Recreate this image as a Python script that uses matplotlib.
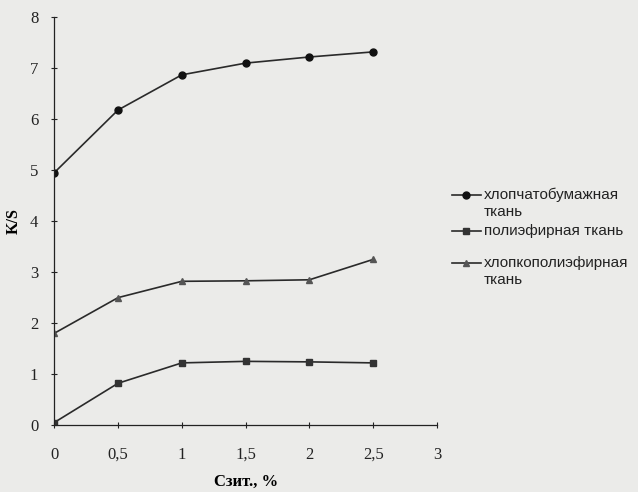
import matplotlib.pyplot as plt
from matplotlib.lines import Line2D

# concentration, %
conc = [0, 0.5, 1, 1.5, 2, 2.5]

# K/S values
cotton = [4.95, 6.18, 6.87, 7.10, 7.22, 7.32]
polyester = [0.05, 0.82, 1.22, 1.25, 1.24, 1.22]
blend = [1.80, 2.50, 2.82, 2.83, 2.85, 3.25]

labels = ['хлопчатобумажная\nткань', 'полиэфирная ткань', 'хлопкополиэфирная\nткань']
xticks = [0, 0.5, 1, 1.5, 2, 2.5, 3]
xticklabels = ['0', '0,5', '1', '1,5', '2', '2,5', '3']

W, H = 638, 492
bg = '#ebebe9'
fig = plt.figure(figsize=(W / 100, H / 100), dpi=100, facecolor=bg)
ax = fig.add_axes([0.085, 0.136, 0.600, 0.829], facecolor=bg)

styles = [
    dict(marker='o', ms=5, mfc='#111111', mec='#111111'),
    dict(marker='s', ms=4.5, mfc='#333333', mec='#333333'),
    dict(marker='^', ms=5, mfc='#555555', mec='#555555'),
]
for ys, st in zip([cotton, polyester, blend], styles):
    ax.plot(conc, ys, color='#2a2a2a', lw=1.2, **st)

ax.set_xlim(0, 3)
ax.set_ylim(0, 8)
ax.set_xticks(xticks)
ax.set_xticklabels(xticklabels)
ax.set_yticks(range(0, 9))

for s in ['top', 'right']:
    ax.spines[s].set_visible(False)
for s in ['left', 'bottom']:
    ax.spines[s].set_color('#222222')
    ax.spines[s].set_linewidth(0.9)

ax.tick_params(axis='both', direction='inout', length=5, width=0.8,
               labelsize=12, colors='#222222')
ax.tick_params(axis='x', pad=13)
ax.tick_params(axis='y', pad=9)
for lab in ax.get_xticklabels() + ax.get_yticklabels():
    lab.set_family('Liberation Serif')

ax.set_ylabel('K/S', fontsize=11.5, fontweight='bold', family='Liberation Serif', labelpad=6)
ax.set_xlabel('Сзит., %', fontsize=12, fontweight='bold', family='Liberation Serif', labelpad=8)

# legend drawn by hand so the key sits on the first text line, as in the original
legend_rows = [195, 231, 263]  # pixel rows from the top
for lab, st, row in zip(labels, styles, legend_rows):
    yf = 1 - row / H
    fig.add_artist(Line2D([452 / W, 466 / W, 481 / W], [yf, yf, yf], color='#2a2a2a',
                          lw=1.2, markevery=[1], transform=fig.transFigure, **st))
    fig.text(484 / W, yf + 7.5 / H, lab, ha='left', va='top', fontsize=11, color='#222222',
             family='Liberation Sans', linespacing=1.3, transform=fig.transFigure)

fig.savefig('out.png', dpi=100, facecolor=bg)
